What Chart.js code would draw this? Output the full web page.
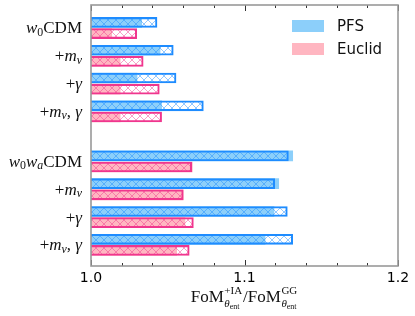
<!DOCTYPE html>
<html>
<head>
<meta charset="utf-8">
<script src="https://cdn.jsdelivr.net/npm/chart.js@4.4.0/dist/chart.umd.min.js"></script>
<style>
  html, body { margin: 0; padding: 0; background: #fff; }
  #wrap { width: 415px; height: 316px; }
</style>
</head>
<body>
<div id="wrap"><canvas id="myChart" width="415" height="316"></canvas></div>
<script>
// labels use a tiny markup: "_x" = subscript x, lowercase/greek = italic
const categories = ['w_0CDM', '+m_ν', '+γ', '+m_ν, γ', 'w_0w_aCDM', '+m_ν', '+γ', '+m_ν, γ'];
const pfsSolid    = [1.033, 1.045, 1.030, 1.046, 1.1314, 1.1223, 1.1192, 1.1134];
const pfsHatch    = [1.043, 1.0536, 1.0554, 1.0732, 1.1286, 1.1197, 1.1279, 1.1314];
const euclidSolid = [1.0135, 1.019, 1.019, 1.019, 1.066, 1.0601, 1.0612, 1.0558];
const euclidHatch = [1.0298, 1.034, 1.0445, 1.046, 1.0656, 1.0601, 1.0667, 1.064];
const xTicks = ['1.0', '1.1', '1.2'];

const pfsFill = '#8ccffa', pfsEdge = '#1e8cff';
const eucFill = '#ffb6c1', eucEdge = '#f0368e';

// rows: the second group sits a bit lower than a plain continuation
const rowPos = categories.map((c, i) => i + (i >= 4 ? 0.8 : 0));

function hatch(color) {
  const c = document.createElement('canvas');
  c.width = 8; c.height = 8;
  const g = c.getContext('2d');
  g.strokeStyle = color;
  g.globalAlpha = 0.8;
  g.lineWidth = 0.6;
  g.beginPath();
  g.moveTo(-1, -1); g.lineTo(9, 9);
  g.moveTo(9, -1); g.lineTo(-1, 9);
  g.stroke();
  return g.createPattern(c, 'repeat');
}

function pts(vals, off) {
  return vals.map((v, i) => ({x: v, y: rowPos[i] + off}));
}

function richWidth(ctx, s, size) {
  return richDraw(ctx, s, 0, 0, size, true);
}
function richDraw(ctx, s, x, y, size, measureOnly) {
  let cx = x;
  for (let i = 0; i < s.length; i++) {
    let ch = s[i], sub = false;
    if (ch === '_') { sub = true; i++; ch = s[i]; }
    const italic = /[a-zα-ω]/.test(ch);
    const fs = sub ? size * 0.7 : size;
    ctx.font = (italic ? 'italic ' : '') + fs + 'px "Liberation Serif", serif';
    const w = ctx.measureText(ch).width;
    if (!measureOnly) ctx.fillText(ch, cx, y + (sub ? size * 0.22 : 0));
    cx += w;
  }
  return cx - x;
}

const framePlugin = {
  id: 'frame',
  afterDatasetsDraw(chart) {
    const {ctx, chartArea: a, scales} = chart;
    ctx.save();
    // inward ticks on top and bottom
    ctx.strokeStyle = '#333';
    ctx.lineWidth = 1;
    scales.x.ticks.forEach(t => {
      const px = Math.round(scales.x.getPixelForValue(t.value)) + 0.5;
      const major = Math.abs(t.value * 10 - Math.round(t.value * 10)) < 1e-6;
      const len = major ? 6 : 3;
      ctx.beginPath();
      ctx.moveTo(px, a.bottom); ctx.lineTo(px, a.bottom - len);
      ctx.moveTo(px, a.top); ctx.lineTo(px, a.top + len);
      ctx.stroke();
    });
    ctx.strokeStyle = '#999';
    ctx.lineWidth = 1.6;
    ctx.strokeRect(a.left, a.top, a.right - a.left, a.bottom - a.top);

    // y labels
    ctx.fillStyle = '#111';
    ctx.textBaseline = 'middle';
    ctx.textAlign = 'left';
    categories.forEach((c, i) => {
      const py = scales.y.getPixelForValue(rowPos[i]) + 1;
      const w = richWidth(ctx, c, 17);
      richDraw(ctx, c, a.left - 9 - w, py, 17, false);
    });

    // legend
    const lx = a.right - 106;
    [['PFS', pfsFill, 26], ['Euclid', eucFill, 49]].forEach(([txt, col, cy]) => {
      ctx.fillStyle = col;
      ctx.fillRect(lx, cy - 6, 32, 12);
      ctx.fillStyle = '#111';
      ctx.font = '15px "DejaVu Sans", sans-serif';
      ctx.fillText(txt, lx + 45, cy + 1);
    });

    // x title  FoM^{+IA}_{θent} / FoM^{GG}_{θent}
    const serif = '"Liberation Serif", serif';
    const parts = [['FoM', '+IA'], ['/FoM', 'GG']];
    const ty = 298;
    let total = 0;
    const measure = (f, t) => { ctx.font = f; return ctx.measureText(t).width; };
    const subW = () => measure('italic 11px ' + serif, 'θ') + measure('8px ' + serif, 'ent');
    parts.forEach(([m, sup]) => {
      total += measure('17px ' + serif, m) + Math.max(measure('11px ' + serif, sup), subW()) + 1.5;
    });
    let tx = (a.left + a.right) / 2 - total / 2;
    parts.forEach(([m, sup]) => {
      ctx.font = '17px ' + serif;
      ctx.fillText(m, tx, ty);
      tx += ctx.measureText(m).width + 0.5;
      ctx.font = '11px ' + serif;
      ctx.fillText(sup, tx, ty - 7);
      const sw = ctx.measureText(sup).width;
      ctx.font = 'italic 11px ' + serif;
      ctx.fillText('θ', tx, ty + 6);
      const tw = ctx.measureText('θ').width;
      ctx.font = '8px ' + serif;
      ctx.fillText('ent', tx + tw, ty + 9);
      tx += Math.max(sw, subW()) + 1;
    });
    ctx.restore();
  }
};

const ctx = document.getElementById('myChart').getContext('2d');
const myChart = new Chart(ctx, {
  type: 'bar',
  data: {
    datasets: [
      {label: 'PFS', data: pts(pfsHatch, -0.2), backgroundColor: hatch(pfsEdge), borderColor: pfsEdge, borderWidth: 1.4, borderSkipped: false, order: 0},
      {label: 'Euclid', data: pts(euclidHatch, 0.2), backgroundColor: hatch(eucEdge), borderColor: eucEdge, borderWidth: 1.4, borderSkipped: false, order: 0},
      {label: 'PFS', data: pts(pfsSolid, -0.2), backgroundColor: pfsFill, borderWidth: 0, order: 1},
      {label: 'Euclid', data: pts(euclidSolid, 0.2), backgroundColor: eucFill, borderWidth: 0, order: 1}
    ]
  },
  options: {
    indexAxis: 'y',
    responsive: false,
    animation: false,
    grouped: false,
    barThickness: 10,
    layout: {padding: {top: 5, right: 17, left: 0, bottom: 0}},
    scales: {
      x: {
        type: 'linear',
        min: 1.0,
        max: 1.2,
        grid: {display: false, drawTicks: false},
        border: {display: false},
        ticks: {
          stepSize: 0.02,
          autoSkip: false,
          maxRotation: 0,
          padding: 4,
          color: '#000',
          font: {size: 14, family: 'DejaVu Sans'},
          callback: v => {
            const k = Math.round(v * 10);
            return Math.abs(v * 10 - k) < 1e-6 ? xTicks[k - 10] : '';
          }
        },
        afterFit: s => { s.height = 50; }
      },
      y: {
        type: 'linear',
        reverse: true,
        offset: false,
        min: -0.827,
        max: 8.56,
        grid: {display: false, drawTicks: false},
        border: {display: false},
        ticks: {display: false},
        afterBuildTicks: s => { s.ticks = rowPos.map(v => ({value: v})); },
        afterFit: s => { s.width = 91; }
      }
    },
    plugins: {
      legend: {display: false},
      tooltip: {enabled: false}
    }
  },
  plugins: [framePlugin]
});
</script>
</body>
</html>
